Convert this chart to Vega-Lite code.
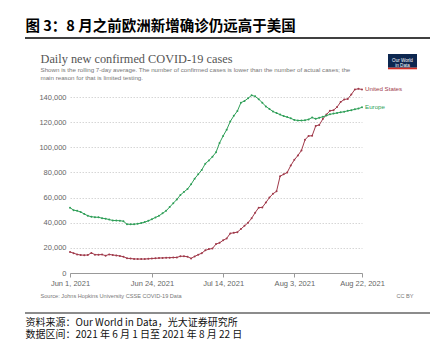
{
"$schema":"https://vega.github.io/schema/vega-lite/v6.json",
"background":"white",
"autosize":"none",
"width":292,"height":176,
"padding":{"left":70,"top":97,"right":83,"bottom":79},
"config":{"font":"Liberation Sans","view":{"stroke":null}},
"datasets":{"covid":[
{"date":"2021-06-01","entity":"United States","cases":16800},
{"date":"2021-06-02","entity":"United States","cases":15800},
{"date":"2021-06-03","entity":"United States","cases":14800},
{"date":"2021-06-04","entity":"United States","cases":14300},
{"date":"2021-06-05","entity":"United States","cases":14200},
{"date":"2021-06-06","entity":"United States","cases":14300},
{"date":"2021-06-07","entity":"United States","cases":16000},
{"date":"2021-06-08","entity":"United States","cases":14600},
{"date":"2021-06-09","entity":"United States","cases":14500},
{"date":"2021-06-10","entity":"United States","cases":14700},
{"date":"2021-06-11","entity":"United States","cases":13800},
{"date":"2021-06-12","entity":"United States","cases":14800},
{"date":"2021-06-13","entity":"United States","cases":14300},
{"date":"2021-06-14","entity":"United States","cases":14000},
{"date":"2021-06-15","entity":"United States","cases":13500},
{"date":"2021-06-16","entity":"United States","cases":13000},
{"date":"2021-06-17","entity":"United States","cases":11700},
{"date":"2021-06-18","entity":"United States","cases":11500},
{"date":"2021-06-19","entity":"United States","cases":11200},
{"date":"2021-06-20","entity":"United States","cases":11100},
{"date":"2021-06-21","entity":"United States","cases":11100},
{"date":"2021-06-22","entity":"United States","cases":11100},
{"date":"2021-06-23","entity":"United States","cases":11300},
{"date":"2021-06-24","entity":"United States","cases":11500},
{"date":"2021-06-25","entity":"United States","cases":11700},
{"date":"2021-06-26","entity":"United States","cases":11900},
{"date":"2021-06-27","entity":"United States","cases":12000},
{"date":"2021-06-28","entity":"United States","cases":12100},
{"date":"2021-06-29","entity":"United States","cases":12200},
{"date":"2021-06-30","entity":"United States","cases":12300},
{"date":"2021-07-01","entity":"United States","cases":12400},
{"date":"2021-07-02","entity":"United States","cases":13300},
{"date":"2021-07-03","entity":"United States","cases":13300},
{"date":"2021-07-04","entity":"United States","cases":13000},
{"date":"2021-07-05","entity":"United States","cases":11600},
{"date":"2021-07-06","entity":"United States","cases":13200},
{"date":"2021-07-07","entity":"United States","cases":14500},
{"date":"2021-07-08","entity":"United States","cases":15800},
{"date":"2021-07-09","entity":"United States","cases":18000},
{"date":"2021-07-10","entity":"United States","cases":19000},
{"date":"2021-07-11","entity":"United States","cases":19500},
{"date":"2021-07-12","entity":"United States","cases":23000},
{"date":"2021-07-13","entity":"United States","cases":24000},
{"date":"2021-07-14","entity":"United States","cases":26000},
{"date":"2021-07-15","entity":"United States","cases":27500},
{"date":"2021-07-16","entity":"United States","cases":31500},
{"date":"2021-07-17","entity":"United States","cases":32000},
{"date":"2021-07-18","entity":"United States","cases":32500},
{"date":"2021-07-19","entity":"United States","cases":35000},
{"date":"2021-07-20","entity":"United States","cases":37500},
{"date":"2021-07-21","entity":"United States","cases":40000},
{"date":"2021-07-22","entity":"United States","cases":43500},
{"date":"2021-07-23","entity":"United States","cases":48000},
{"date":"2021-07-24","entity":"United States","cases":52000},
{"date":"2021-07-25","entity":"United States","cases":52200},
{"date":"2021-07-26","entity":"United States","cases":56000},
{"date":"2021-07-27","entity":"United States","cases":60000},
{"date":"2021-07-28","entity":"United States","cases":63000},
{"date":"2021-07-29","entity":"United States","cases":65000},
{"date":"2021-07-30","entity":"United States","cases":77000},
{"date":"2021-07-31","entity":"United States","cases":78500},
{"date":"2021-08-01","entity":"United States","cases":80000},
{"date":"2021-08-02","entity":"United States","cases":85500},
{"date":"2021-08-03","entity":"United States","cases":90000},
{"date":"2021-08-04","entity":"United States","cases":93500},
{"date":"2021-08-05","entity":"United States","cases":97500},
{"date":"2021-08-06","entity":"United States","cases":106000},
{"date":"2021-08-07","entity":"United States","cases":109000},
{"date":"2021-08-08","entity":"United States","cases":109200},
{"date":"2021-08-09","entity":"United States","cases":117000},
{"date":"2021-08-10","entity":"United States","cases":117800},
{"date":"2021-08-11","entity":"United States","cases":122500},
{"date":"2021-08-12","entity":"United States","cases":126000},
{"date":"2021-08-13","entity":"United States","cases":129000},
{"date":"2021-08-14","entity":"United States","cases":129500},
{"date":"2021-08-15","entity":"United States","cases":132000},
{"date":"2021-08-16","entity":"United States","cases":136000},
{"date":"2021-08-17","entity":"United States","cases":138000},
{"date":"2021-08-18","entity":"United States","cases":138500},
{"date":"2021-08-19","entity":"United States","cases":142000},
{"date":"2021-08-20","entity":"United States","cases":146000},
{"date":"2021-08-21","entity":"United States","cases":146500},
{"date":"2021-08-22","entity":"United States","cases":146000},
{"date":"2021-06-01","entity":"Europe","cases":52000},
{"date":"2021-06-02","entity":"Europe","cases":50000},
{"date":"2021-06-03","entity":"Europe","cases":49500},
{"date":"2021-06-04","entity":"Europe","cases":48500},
{"date":"2021-06-05","entity":"Europe","cases":47000},
{"date":"2021-06-06","entity":"Europe","cases":45500},
{"date":"2021-06-07","entity":"Europe","cases":44800},
{"date":"2021-06-08","entity":"Europe","cases":44400},
{"date":"2021-06-09","entity":"Europe","cases":44300},
{"date":"2021-06-10","entity":"Europe","cases":43600},
{"date":"2021-06-11","entity":"Europe","cases":43200},
{"date":"2021-06-12","entity":"Europe","cases":42500},
{"date":"2021-06-13","entity":"Europe","cases":41800},
{"date":"2021-06-14","entity":"Europe","cases":41700},
{"date":"2021-06-15","entity":"Europe","cases":41600},
{"date":"2021-06-16","entity":"Europe","cases":41200},
{"date":"2021-06-17","entity":"Europe","cases":38800},
{"date":"2021-06-18","entity":"Europe","cases":38700},
{"date":"2021-06-19","entity":"Europe","cases":38800},
{"date":"2021-06-20","entity":"Europe","cases":39200},
{"date":"2021-06-21","entity":"Europe","cases":39700},
{"date":"2021-06-22","entity":"Europe","cases":40500},
{"date":"2021-06-23","entity":"Europe","cases":41500},
{"date":"2021-06-24","entity":"Europe","cases":42800},
{"date":"2021-06-25","entity":"Europe","cases":44200},
{"date":"2021-06-26","entity":"Europe","cases":45500},
{"date":"2021-06-27","entity":"Europe","cases":47500},
{"date":"2021-06-28","entity":"Europe","cases":49500},
{"date":"2021-06-29","entity":"Europe","cases":52500},
{"date":"2021-06-30","entity":"Europe","cases":55500},
{"date":"2021-07-01","entity":"Europe","cases":58500},
{"date":"2021-07-02","entity":"Europe","cases":62000},
{"date":"2021-07-03","entity":"Europe","cases":64500},
{"date":"2021-07-04","entity":"Europe","cases":66800},
{"date":"2021-07-05","entity":"Europe","cases":70500},
{"date":"2021-07-06","entity":"Europe","cases":75000},
{"date":"2021-07-07","entity":"Europe","cases":78500},
{"date":"2021-07-08","entity":"Europe","cases":82000},
{"date":"2021-07-09","entity":"Europe","cases":87000},
{"date":"2021-07-10","entity":"Europe","cases":89500},
{"date":"2021-07-11","entity":"Europe","cases":92500},
{"date":"2021-07-12","entity":"Europe","cases":96000},
{"date":"2021-07-13","entity":"Europe","cases":103500},
{"date":"2021-07-14","entity":"Europe","cases":109000},
{"date":"2021-07-15","entity":"Europe","cases":114000},
{"date":"2021-07-16","entity":"Europe","cases":120500},
{"date":"2021-07-17","entity":"Europe","cases":125000},
{"date":"2021-07-18","entity":"Europe","cases":128800},
{"date":"2021-07-19","entity":"Europe","cases":135500},
{"date":"2021-07-20","entity":"Europe","cases":136800},
{"date":"2021-07-21","entity":"Europe","cases":139000},
{"date":"2021-07-22","entity":"Europe","cases":141300},
{"date":"2021-07-23","entity":"Europe","cases":140500},
{"date":"2021-07-24","entity":"Europe","cases":138200},
{"date":"2021-07-25","entity":"Europe","cases":135500},
{"date":"2021-07-26","entity":"Europe","cases":132500},
{"date":"2021-07-27","entity":"Europe","cases":130500},
{"date":"2021-07-28","entity":"Europe","cases":128500},
{"date":"2021-07-29","entity":"Europe","cases":127200},
{"date":"2021-07-30","entity":"Europe","cases":126000},
{"date":"2021-07-31","entity":"Europe","cases":124800},
{"date":"2021-08-01","entity":"Europe","cases":124000},
{"date":"2021-08-02","entity":"Europe","cases":123000},
{"date":"2021-08-03","entity":"Europe","cases":121800},
{"date":"2021-08-04","entity":"Europe","cases":121300},
{"date":"2021-08-05","entity":"Europe","cases":121300},
{"date":"2021-08-06","entity":"Europe","cases":121500},
{"date":"2021-08-07","entity":"Europe","cases":122200},
{"date":"2021-08-08","entity":"Europe","cases":123700},
{"date":"2021-08-09","entity":"Europe","cases":122600},
{"date":"2021-08-10","entity":"Europe","cases":123500},
{"date":"2021-08-11","entity":"Europe","cases":124300},
{"date":"2021-08-12","entity":"Europe","cases":125200},
{"date":"2021-08-13","entity":"Europe","cases":126200},
{"date":"2021-08-14","entity":"Europe","cases":126800},
{"date":"2021-08-15","entity":"Europe","cases":127300},
{"date":"2021-08-16","entity":"Europe","cases":127800},
{"date":"2021-08-17","entity":"Europe","cases":128300},
{"date":"2021-08-18","entity":"Europe","cases":129000},
{"date":"2021-08-19","entity":"Europe","cases":129500},
{"date":"2021-08-20","entity":"Europe","cases":130200},
{"date":"2021-08-21","entity":"Europe","cases":130800},
{"date":"2021-08-22","entity":"Europe","cases":131800}
]},
"data":{"name":"covid"},
"layer":[
{
"mark":{"type":"line","strokeWidth":1,"point":{"size":4,"filled":true}},
"encoding":{
"x":{"field":"date","type":"temporal","scale":{"type":"utc","domain":[{"year":2021,"month":6,"date":1,"utc":true},{"year":2021,"month":8,"date":22,"utc":true}]},
"axis":{"orient":"bottom","values":[{"year":2021,"month":6,"date":1,"utc":true},{"year":2021,"month":6,"date":24,"utc":true},{"year":2021,"month":7,"date":14,"utc":true},{"year":2021,"month":8,"date":3,"utc":true},{"year":2021,"month":8,"date":22,"utc":true}],"format":"%b %-d, %Y","labelFont":"Liberation Sans","labelFontSize":7.5,"labelColor":"#666","labelPadding":2,"labelFlush":false,"labelOverlap":false,"domainColor":"#999","tickColor":"#999","tickSize":4,"grid":false,"title":"Source: Johns Hopkins University CSSE COVID-19 Data","titleX":-30,"titleY":24,"titleAlign":"left","titleAnchor":"start","titleBaseline":"alphabetic","titleFont":"Liberation Sans","titleFontSize":5.6,"titleFontWeight":"normal","titleColor":"#777","titleLimit":1000}},
"y":{"field":"cases","type":"quantitative","scale":{"domain":[0,140000],"nice":false},
"axis":{"orient":"left","values":[0,20000,40000,60000,80000,100000,120000,140000],"format":",.0f","domain":false,"ticks":false,"labelFont":"Liberation Sans","labelFontSize":7.5,"labelColor":"#666","labelPadding":4,"grid":true,"gridColor":"#d6d6d6","gridDash":[1.5,1.5],"title":null}},
"color":{"field":"entity","type":"nominal","scale":{"domain":["United States","Europe"],"range":["#a0394a","#2f9f58"]},"legend":null}
}
},
{
"transform":[{"filter":"time(datum.date) == utc(2021,7,22)"}],
"mark":{"type":"text","align":"left","baseline":"middle","dx":3,"fontSize":6.2,"font":"Liberation Sans"},
"encoding":{
"text":{"field":"entity"},
"x":{"field":"date","type":"temporal","scale":{"type":"utc","domain":[{"year":2021,"month":6,"date":1,"utc":true},{"year":2021,"month":8,"date":22,"utc":true}]},
"axis":{"orient":"top","labels":false,"ticks":false,"domain":false,"grid":false,"title":"CC BY","titleX":343,"titleY":200,"titleAlign":"right","titleAnchor":"end","titleBaseline":"alphabetic","titleFont":"Liberation Sans","titleFontSize":5.6,"titleFontWeight":"normal","titleColor":"#777","titleLimit":1000}},
"y":{"field":"cases","type":"quantitative","scale":{"domain":[0,140000],"nice":false},"axis":null},
"color":{"field":"entity","type":"nominal","scale":{"domain":["United States","Europe"],"range":["#a0394a","#2f9f58"]},"legend":null}
}
},
{
"data":{"values":[{}]},
"mark":{"type":"rule","color":"#000","strokeWidth":1.3},
"encoding":{
"x":{"datum":{"year":2021,"month":6,"date":1,"utc":true},"type":"temporal","scale":{"type":"utc","domain":[{"year":2021,"month":6,"date":1,"utc":true},{"year":2021,"month":8,"date":22,"utc":true}],"range":[-45,360]},
"axis":{"orient":"top","offset":59,"labels":false,"ticks":false,"grid":false,"domain":false,"title":"图 3：8 月之前欧洲新增确诊仍远高于美国","titleX":-45,"titleY":-7.5,"titleAlign":"left","titleAnchor":"start","titleBaseline":"alphabetic","titleFont":"Noto Sans CJK SC","titleFontSize":14.5,"titleFontWeight":"bold","titleColor":"#000","titleLimit":1000}},
"x2":{"datum":{"year":2021,"month":8,"date":22,"utc":true}},
"y":{"datum":0,"type":"quantitative","scale":{"domain":[0,1],"range":[-59,0]},"axis":null}
}
},
{
"data":{"values":[{}]},
"mark":{"type":"rule","color":"#666","strokeWidth":1.3},
"encoding":{
"x":{"datum":{"year":2021,"month":6,"date":1,"utc":true},"type":"temporal","scale":{"type":"utc","domain":[{"year":2021,"month":6,"date":1,"utc":true},{"year":2021,"month":8,"date":22,"utc":true}],"range":[-45,360]},
"axis":{"orient":"bottom","offset":40,"labels":false,"ticks":false,"grid":false,"domain":false,"title":"资料来源：Our World in Data，光大证券研究所","titleX":-45,"titleY":12,"titleAlign":"left","titleAnchor":"start","titleBaseline":"alphabetic","titleFont":"Noto Sans CJK SC","titleFontSize":10,"titleFontWeight":"normal","titleColor":"#111","titleLimit":1000}},
"x2":{"datum":{"year":2021,"month":8,"date":22,"utc":true}},
"y":{"datum":0,"type":"quantitative","scale":{"domain":[0,1],"range":[216,0]},"axis":null}
}
},
{
"data":{"values":[]},
"mark":{"type":"point","opacity":0},
"encoding":{
"x":{"field":"date","type":"temporal","scale":{"type":"utc","domain":[{"year":2021,"month":6,"date":1,"utc":true},{"year":2021,"month":8,"date":22,"utc":true}]},
"axis":{"orient":"top","labels":false,"ticks":false,"domain":false,"grid":false,"title":"Daily new confirmed COVID-19 cases","titleX":-30,"titleY":-34.5,"titleAlign":"left","titleAnchor":"start","titleBaseline":"alphabetic","titleFont":"Liberation Serif","titleFontSize":12.3,"titleFontWeight":"normal","titleColor":"#555","titleLimit":1000}}
}
},
{
"data":{"values":[]},
"mark":{"type":"point","opacity":0},
"encoding":{
"x":{"field":"date","type":"temporal","scale":{"type":"utc","domain":[{"year":2021,"month":6,"date":1,"utc":true},{"year":2021,"month":8,"date":22,"utc":true}]},
"axis":{"orient":"top","labels":false,"ticks":false,"domain":false,"grid":false,"title":"Shown is the rolling 7-day average. The number of confirmed cases is lower than the number of actual cases; the","titleX":-30,"titleY":-25.5,"titleAlign":"left","titleAnchor":"start","titleBaseline":"alphabetic","titleFont":"Liberation Sans","titleFontSize":6.2,"titleFontWeight":"normal","titleColor":"#777","titleLimit":1000}}
}
},
{
"data":{"values":[]},
"mark":{"type":"point","opacity":0},
"encoding":{
"x":{"field":"date","type":"temporal","scale":{"type":"utc","domain":[{"year":2021,"month":6,"date":1,"utc":true},{"year":2021,"month":8,"date":22,"utc":true}]},
"axis":{"orient":"top","labels":false,"ticks":false,"domain":false,"grid":false,"title":"main reason for that is limited testing.","titleX":-30,"titleY":-17.5,"titleAlign":"left","titleAnchor":"start","titleBaseline":"alphabetic","titleFont":"Liberation Sans","titleFontSize":6.2,"titleFontWeight":"normal","titleColor":"#777","titleLimit":1000}}
}
},
{
"data":{"values":[]},
"mark":{"type":"point","opacity":0},
"encoding":{
"x":{"field":"date","type":"temporal","scale":{"type":"utc","domain":[{"year":2021,"month":6,"date":1,"utc":true},{"year":2021,"month":8,"date":22,"utc":true}]},
"axis":{"orient":"bottom","labels":false,"ticks":false,"domain":false,"grid":false,"title":"数据区间：2021 年 6 月 1 日至 2021 年 8 月 22 日","titleX":-45,"titleY":64,"titleAlign":"left","titleAnchor":"start","titleBaseline":"alphabetic","titleFont":"Noto Sans CJK SC","titleFontSize":10,"titleFontWeight":"normal","titleColor":"#111","titleLimit":1000}}
}
},
{
"data":{"values":[{}]},
"mark":{"type":"rect","color":"#0d2750"},
"encoding":{
"x":{"datum":0,"type":"quantitative","scale":{"domain":[0,1],"range":[318,347]},"axis":null},
"x2":{"datum":1},
"y":{"datum":0,"type":"quantitative","scale":{"domain":[0,1],"range":[-43,-29.3]},"axis":null},
"y2":{"datum":1}
}
},
{
"data":{"values":[{}]},
"mark":{"type":"rect","color":"#d42b21"},
"encoding":{
"x":{"datum":0,"type":"quantitative","scale":{"domain":[0,1],"range":[318,347]},"axis":null},
"x2":{"datum":1},
"y":{"datum":0,"type":"quantitative","scale":{"domain":[0,1],"range":[-29.3,-27.7]},"axis":null},
"y2":{"datum":1}
}
},
{
"data":{"values":[{}]},
"mark":{"type":"text","color":"#ffffff","fontSize":4.6,"align":"center","baseline":"middle","lineHeight":5.5,"font":"Liberation Sans"},
"encoding":{
"text":{"value":["Our World","in Data"]},
"x":{"datum":0.5,"type":"quantitative","scale":{"domain":[0,1],"range":[318,347]},"axis":null},
"y":{"datum":0.5,"type":"quantitative","scale":{"domain":[0,1],"range":[-43,-29.3]},"axis":null}
}
}
],
"resolve":{"scale":{"x":"independent","y":"independent"},"axis":{"x":"independent","y":"independent"}}
}
